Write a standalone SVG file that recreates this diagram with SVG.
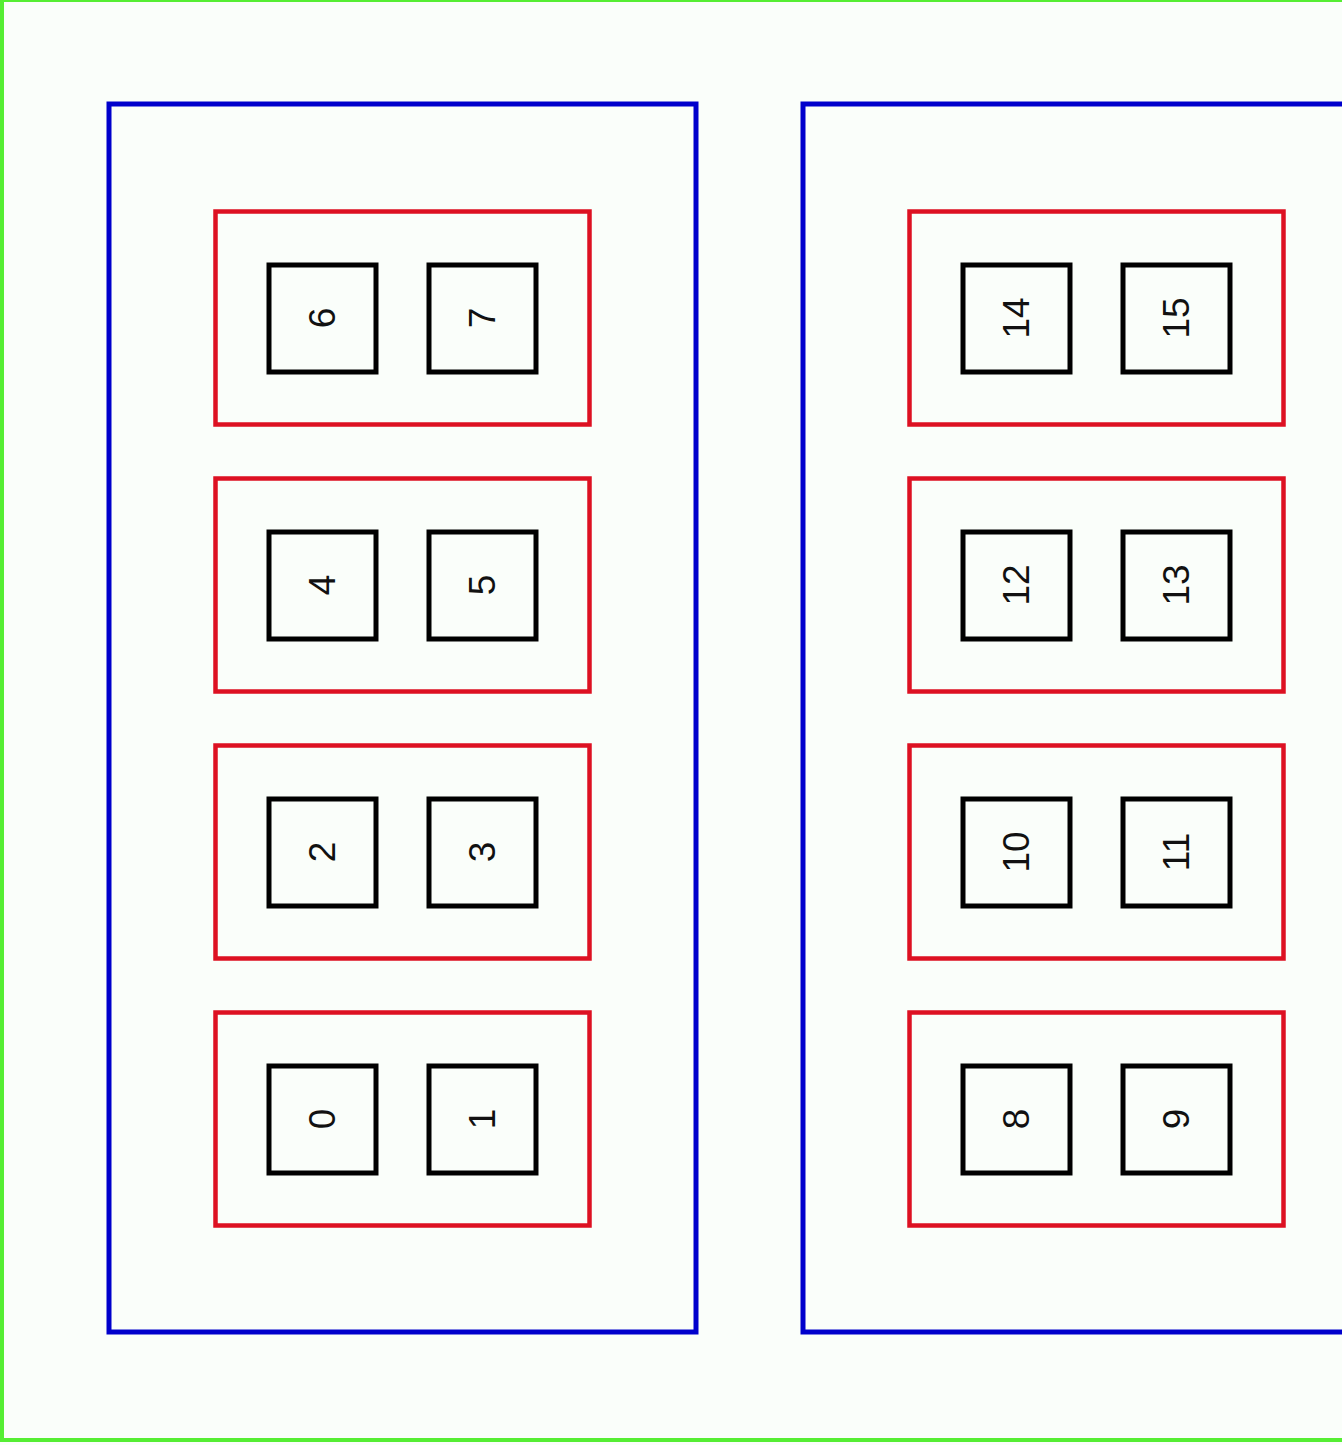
<svg xmlns="http://www.w3.org/2000/svg" width="1342" height="1445" viewBox="0 0 1342 1445">
<style>
.bg{fill:#fafefa}
.outer{fill:none;stroke:#55ee33;stroke-width:4}
.blue{fill:none;stroke:#0000cc;stroke-width:5}
.red{fill:none;stroke:#dd1122;stroke-width:4.5}
.node rect{fill:none;stroke:#000;stroke-width:5}
.node text{font-family:"Liberation Sans",Arial,sans-serif;font-size:37px;fill:#111;text-anchor:middle;dominant-baseline:central}
</style>
<rect class="bg" x="0" y="0" width="1342" height="1445"/>
<rect class="outer" x="2" y="0" width="1400" height="1440"/>
<g id="cluster-left">
<rect class="blue" x="109" y="104" width="587" height="1228"/>
<rect class="red" x="215.5" y="211.5" width="374" height="213"/>
<rect class="red" x="215.5" y="478.5" width="374" height="213"/>
<rect class="red" x="215.5" y="745.5" width="374" height="213"/>
<rect class="red" x="215.5" y="1012.5" width="374" height="213"/>
</g>
<g id="cluster-right">
<rect class="blue" x="803" y="104" width="620" height="1228"/>
<rect class="red" x="909.5" y="211.5" width="374" height="213"/>
<rect class="red" x="909.5" y="478.5" width="374" height="213"/>
<rect class="red" x="909.5" y="745.5" width="374" height="213"/>
<rect class="red" x="909.5" y="1012.5" width="374" height="213"/>
</g>
<g id="connectors"></g>
<g id="n6" class="node"><rect x="269" y="265" width="107" height="107"/><text transform="translate(322,318) rotate(-90)">6</text></g>
<g id="n7" class="node"><rect x="429" y="265" width="107" height="107"/><text transform="translate(482,318) rotate(-90)">7</text></g>
<g id="n4" class="node"><rect x="269" y="532" width="107" height="107"/><text transform="translate(322,585) rotate(-90)">4</text></g>
<g id="n5" class="node"><rect x="429" y="532" width="107" height="107"/><text transform="translate(482,585) rotate(-90)">5</text></g>
<g id="n2" class="node"><rect x="269" y="799" width="107" height="107"/><text transform="translate(322,852) rotate(-90)">2</text></g>
<g id="n3" class="node"><rect x="429" y="799" width="107" height="107"/><text transform="translate(482,852) rotate(-90)">3</text></g>
<g id="n0" class="node"><rect x="269" y="1066" width="107" height="107"/><text transform="translate(322,1119) rotate(-90)">0</text></g>
<g id="n1" class="node"><rect x="429" y="1066" width="107" height="107"/><text transform="translate(482,1119) rotate(-90)">1</text></g>
<g id="n14" class="node"><rect x="963" y="265" width="107" height="107"/><text transform="translate(1016,318) rotate(-90)">14</text></g>
<g id="n15" class="node"><rect x="1123" y="265" width="107" height="107"/><text transform="translate(1176,318) rotate(-90)">15</text></g>
<g id="n12" class="node"><rect x="963" y="532" width="107" height="107"/><text transform="translate(1016,585) rotate(-90)">12</text></g>
<g id="n13" class="node"><rect x="1123" y="532" width="107" height="107"/><text transform="translate(1176,585) rotate(-90)">13</text></g>
<g id="n10" class="node"><rect x="963" y="799" width="107" height="107"/><text transform="translate(1016,852) rotate(-90)">10</text></g>
<g id="n11" class="node"><rect x="1123" y="799" width="107" height="107"/><text transform="translate(1176,852) rotate(-90)">11</text></g>
<g id="n8" class="node"><rect x="963" y="1066" width="107" height="107"/><text transform="translate(1016,1119) rotate(-90)">8</text></g>
<g id="n9" class="node"><rect x="1123" y="1066" width="107" height="107"/><text transform="translate(1176,1119) rotate(-90)">9</text></g>
</svg>
